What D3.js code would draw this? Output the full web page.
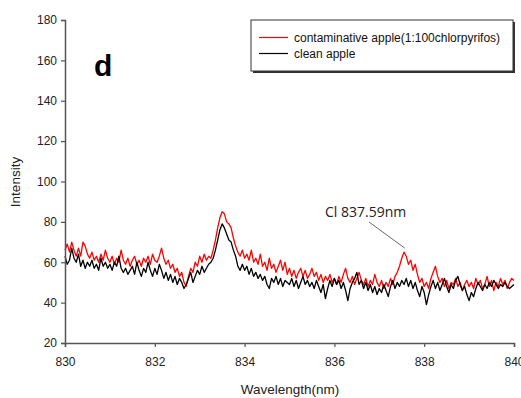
<!DOCTYPE html>
<html>
<head>
<meta charset="utf-8">
<script src="https://cdn.jsdelivr.net/npm/d3@7"></script>
<style>
  body { margin: 0; background: #fff; }
  svg { display: block; font-family: "Liberation Sans", Arial, sans-serif; }
</style>
</head>
<body>
<div id="chart"></div>
<script>
// wavelength grid: 830 -> 840 nm, step 0.05
var wlStart = 830, wlStep = 0.05;

var contaminated = [
  66, 69, 65, 70, 66, 63, 67, 63, 70, 68, 64, 62, 65, 61, 63, 60, 64, 61, 66, 62,
  60, 63, 59, 62, 60, 66, 61, 59, 62, 58, 61, 63, 59, 61, 58, 62, 60, 63, 59, 64,
  61, 60, 63, 67, 62, 59, 61, 57, 59, 55, 57, 53, 55, 50, 48, 53, 57, 55, 60, 58,
  63, 60, 64, 61, 63, 62, 66, 71, 77, 82, 85, 84, 80, 79, 77, 72, 68, 65, 63, 66,
  62, 64, 61, 66, 60, 62, 59, 64, 58, 60, 56, 62, 57, 59, 55, 58, 61, 56, 60, 54,
  57, 53, 56, 52, 55, 57, 53, 56, 52, 54, 57, 53, 55, 51, 54, 50, 53, 51, 54, 50,
  52, 49, 53, 50, 54, 57, 52, 50, 53, 49, 52, 55, 51, 49, 52, 48, 51, 49, 54, 50,
  48, 51, 47, 50, 48, 52, 49, 53, 55, 58, 62, 65, 63, 59, 61, 56, 59, 54, 50, 52,
  48, 50, 47, 52, 55, 58, 53, 50, 52, 48, 51, 47, 50, 49, 52, 48, 50, 46, 49, 51,
  48, 50, 47, 52, 49, 51, 47, 49, 53, 48, 51, 46, 50, 48, 52, 49, 51, 47, 50, 52,
  51
];

var clean = [
  63, 59, 61, 67, 62, 60, 64, 58, 61, 57, 60, 58, 61, 57, 59, 56, 62, 58, 60, 57,
  59, 56, 60, 58, 63, 57, 55, 57, 54, 56, 58, 54, 60, 56, 53, 57, 55, 60, 56, 53,
  57, 54, 59, 56, 52, 55, 51, 54, 50, 53, 49, 52, 50, 47, 49, 52, 55, 50, 53, 56,
  54, 58, 55, 57, 59, 60, 62, 66, 71, 76, 79, 77, 74, 71, 70, 66, 63, 58, 56, 59,
  56, 58, 54, 57, 53, 55, 52, 54, 51, 53, 49, 47, 52, 50, 53, 49, 52, 48, 51, 50,
  49, 52, 48, 51, 47, 50, 53, 49, 51, 48, 50, 47, 51, 48, 45, 49, 42, 47, 51, 48,
  52, 49, 51, 47, 50, 46, 41, 47, 50, 52, 55, 49, 51, 47, 50, 46, 49, 45, 48, 44,
  47, 45, 49, 46, 43, 48, 51, 47, 50, 48, 51, 49, 52, 48, 51, 47, 50, 46, 43, 48,
  45, 39, 44, 48, 51, 47, 50, 46, 49, 52, 48, 45, 49, 47, 51, 53, 49, 46, 48, 44,
  41, 45, 43, 47, 50, 48, 46, 49, 47, 50, 48, 51, 49, 47, 49, 48, 50, 48, 47, 48,
  49
];

var xTicks = [830, 832, 834, 836, 838, 840];
var yTicks = [20, 40, 60, 80, 100, 120, 140, 160, 180];
var seriesNames = ['contaminative apple(1:100chlorpyrifos)', 'clean apple'];
var seriesColors = ['#ff0000', '#000000'];
var peakLabel = 'Cl 837.59nm';
var peakPos = [837.59, 65];

var width = 521, height = 398;
var x = d3.scaleLinear().domain([830, 840]).range([65, 514]);
var y = d3.scaleLinear().domain([20, 180]).range([343, 20]);

var svg = d3.select('#chart').append('svg')
  .attr('width', width)
  .attr('height', height);

var line = d3.line()
  .x(function (d, i) { return x(wlStart + i * wlStep); })
  .y(function (d) { return y(d); });

// red first, black on top
[contaminated, clean].forEach(function (s, k) {
  svg.append('path')
    .datum(s)
    .attr('fill', 'none')
    .attr('stroke', seriesColors[k])
    .attr('stroke-width', 1.3)
    .attr('stroke-linejoin', 'round')
    .attr('d', line);
});

// axes
var xAxis = svg.append('g')
  .attr('transform', 'translate(0,343)')
  .call(d3.axisBottom(x).tickValues(xTicks).tickSize(4).tickFormat(d3.format('d')));
var yAxis = svg.append('g')
  .attr('transform', 'translate(65,0)')
  .call(d3.axisLeft(y).tickValues(yTicks).tickSize(4).tickFormat(d3.format('d')));

[xAxis, yAxis].forEach(function (g) {
  g.select('.domain').attr('stroke', '#555').attr('stroke-width', 1.5);
  g.selectAll('.tick line').attr('stroke', '#555').attr('stroke-width', 1.2);
  g.selectAll('.tick text')
    .attr('fill', '#222')
    .style('font-family', '"Liberation Sans", Arial, sans-serif')
    .style('font-size', '12px');
});
xAxis.selectAll('.tick text').attr('dy', '1.3em');
yAxis.selectAll('.tick text').attr('x', -8);

svg.append('text')
  .attr('x', 290).attr('y', 394)
  .attr('text-anchor', 'middle')
  .attr('font-size', 13.5)
  .attr('fill', '#222')
  .text('Wavelength(nm)');

svg.append('text')
  .attr('transform', 'translate(20,182) rotate(-90)')
  .attr('text-anchor', 'middle')
  .attr('font-size', 13.5)
  .attr('fill', '#222')
  .text('Intensity');

// panel letter
svg.append('text')
  .attr('x', 94).attr('y', 76)
  .attr('font-size', 30)
  .attr('font-weight', 'bold')
  .attr('fill', '#000')
  .text('d');

// legend
var lg = svg.append('g');
lg.append('rect')
  .attr('x', 253).attr('y', 22).attr('width', 262).attr('height', 51)
  .attr('fill', '#333');
lg.append('rect')
  .attr('x', 251).attr('y', 20).attr('width', 262).attr('height', 51)
  .attr('fill', '#fff').attr('stroke', '#333').attr('stroke-width', 1);
seriesNames.forEach(function (name, k) {
  var ly = 37.5 + k * 16;
  lg.append('line')
    .attr('x1', 259).attr('x2', 288)
    .attr('y1', ly).attr('y2', ly)
    .attr('stroke', seriesColors[k]).attr('stroke-width', 1.2);
  lg.append('text')
    .attr('x', 294).attr('y', ly + 4)
    .attr('font-size', 12)
    .attr('fill', '#111')
    .text(name);
});

// annotation
svg.append('line')
  .attr('x1', 369).attr('y1', 222)
  .attr('x2', x(peakPos[0]) - 1).attr('y2', y(peakPos[1]) - 4)
  .attr('stroke', '#444').attr('stroke-width', 0.8);
svg.append('text')
  .attr('x', 325).attr('y', 217)
  .attr('font-family', '"Open Sans", "Noto Sans", sans-serif')
  .attr('font-size', 14)
  .attr('fill', '#222')
  .text(peakLabel);
</script>
</body>
</html>
